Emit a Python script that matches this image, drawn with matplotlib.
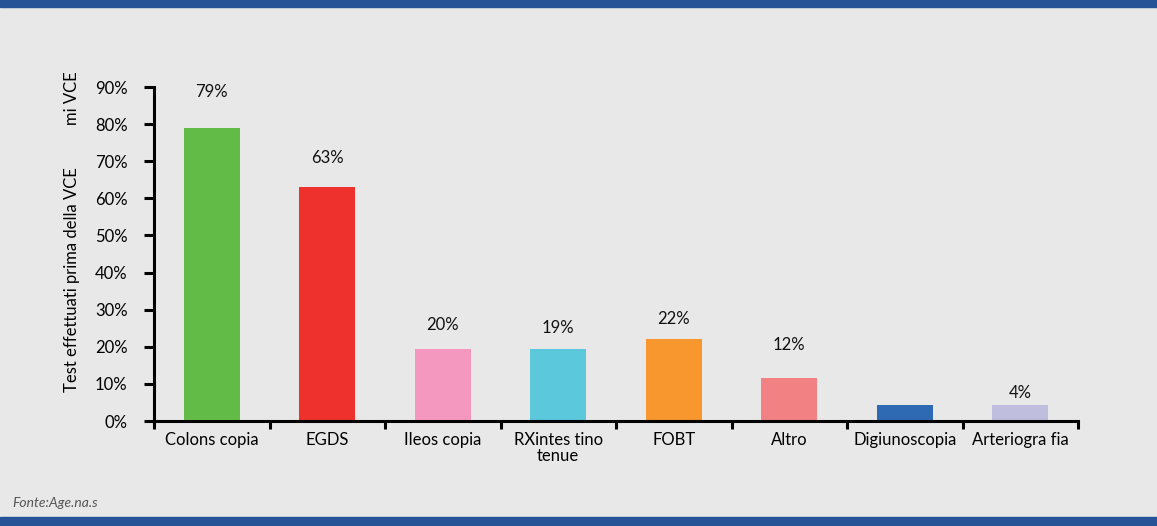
import matplotlib.pyplot as plt
from matplotlib.patches import Rectangle

categories = ["Colons copia", "EGDS", "Ileos copia", "RXintes tino\ntenue",
              "FOBT", "Altro", "Digiunoscopia", "Arteriogra fia"]
values = [79, 63, 19.5, 19.5, 22, 11.5, 4.2, 4.2]
value_labels = ["79%", "63%", "20%", "19%", "22%", "12%", "", "4%"]
yticks = [0, 10, 20, 30, 40, 50, 60, 70, 80, 90]

colors = ["#62BB46", "#EE312D", "#F598C0", "#5BC8DC",
          "#F7972E", "#F28184", "#2E6AB4", "#BFBEDF"]
# label gap above each bar (in % units), as placed in the original
label_pad = [9.6, 7.8, 6.3, 5.5, 5.6, 8.9, 0, 3.4]

plt.rcParams['font.family'] = ['Lato', 'DejaVu Sans']
bg = "#E8E8E8"
band = "#255396"

fig = plt.figure(figsize=(11.57, 5.26), dpi=100, facecolor=bg)
ax = fig.add_axes([154 / 1157, 1 - 421 / 526, 924 / 1157, 334 / 526])
ax.set_facecolor(bg)

x = range(len(categories))
ax.bar(x, values, width=0.485, color=colors, zorder=2)
for i, (v, lab) in enumerate(zip(values, value_labels)):
    if lab:
        ax.text(i, v + label_pad[i], lab, ha="center", va="center",
                fontsize=12, color="#111111")

ax.set_xlim(-0.5, len(categories) - 0.5)
ax.set_ylim(0, 90)
ax.set_yticks(yticks)
ax.set_yticklabels([f"{t}%" for t in yticks], fontsize=12)
ax.set_xticks(list(x))
ax.set_xticklabels(categories, fontsize=12, linespacing=1.0)
ax.set_xticks([i - 0.5 for i in range(len(categories) + 1)], minor=True)
ax.tick_params(axis="x", which="major", length=0, pad=8)
ax.tick_params(axis="x", which="minor", length=6, width=2.2, direction="out")
ax.tick_params(axis="y", length=7, width=2.2, direction="out", pad=12)

for s in ["top", "right"]:
    ax.spines[s].set_visible(False)
for s in ["left", "bottom"]:
    ax.spines[s].set_linewidth(2.2)

fig.text(72 / 1157, 1 - 280 / 526, "Test effettuati prima della VCE",
         rotation=90, ha="center", va="center", fontsize=12)
fig.text(72 / 1157, 1 - 98 / 526, "mi VCE",
         rotation=90, ha="center", va="center", fontsize=12)

fig.text(12 / 1157, 1 - 503 / 526, "Fonte:Age.na.s", fontsize=10,
         style="italic", color="#555555", va="center")

fig.patches.append(Rectangle((0, 1 - 7 / 526), 1, 7 / 526,
                             transform=fig.transFigure, color=band))
fig.patches.append(Rectangle((0, 0), 1, 9 / 526,
                             transform=fig.transFigure, color=band))

fig.savefig("out.png", dpi=100, facecolor=bg)
